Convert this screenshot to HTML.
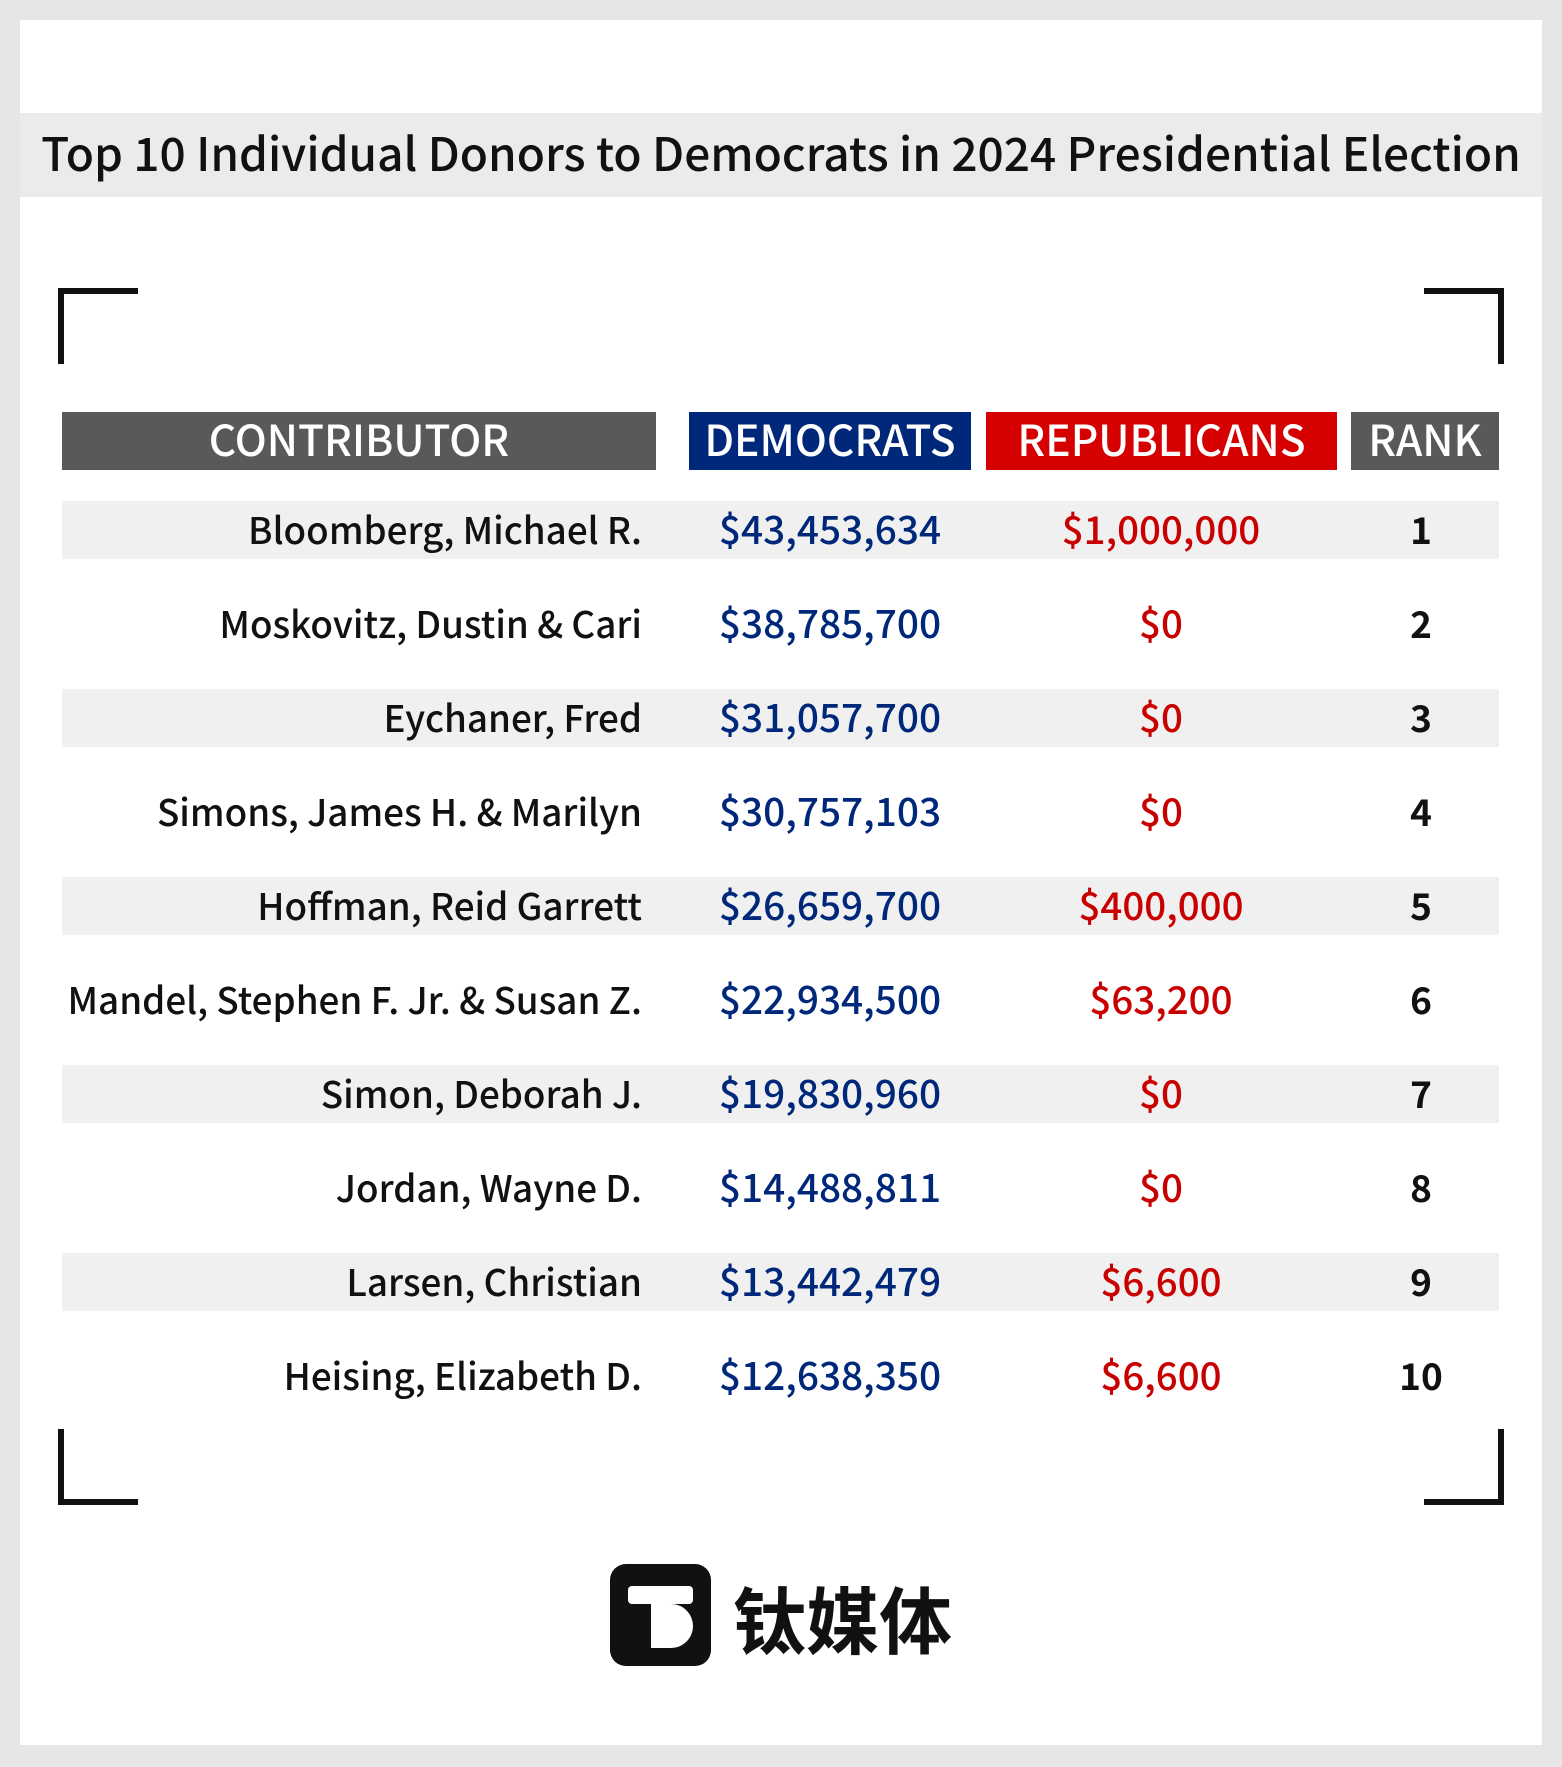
<!DOCTYPE html>
<html><head><meta charset="utf-8">
<style>
html,body{margin:0;padding:0}
body{width:1562px;height:1767px;background:#e6e6e6;position:relative;overflow:hidden;font-family:"Noto Sans CJK SC","Liberation Sans",sans-serif}
.abs{position:absolute}
#panel{left:20px;top:20px;width:1522px;height:1725px;background:#fff}
#title-band{left:20px;top:113px;width:1522px;height:84px;background:#ebebeb;font-size:46px;line-height:78px;text-align:center;color:#111;white-space:nowrap;font-weight:500}
.corner{position:absolute;box-sizing:border-box;width:80px;height:76px;border-color:#111;border-style:solid;border-width:0}
.hdr{position:absolute;top:412px;height:58px;line-height:54px;color:#fff;font-size:42.5px;text-align:center;white-space:nowrap;font-weight:500}
.band{position:absolute;left:62px;width:1437px;height:58px;background:#f0f0f0}
.cell{position:absolute;height:50px;line-height:46px;white-space:nowrap}
</style></head><body>
<div id="panel" class="abs"></div>
<div id="title-band" class="abs">Top 10 Individual Donors to Democrats in 2024 Presidential Election</div>
<div class="corner" style="left:58px;top:288px;border-left-width:6px;border-top-width:6px"></div>
<div class="corner" style="left:1424px;top:288px;border-right-width:6px;border-top-width:6px"></div>
<div class="corner" style="left:58px;top:1429px;border-left-width:6px;border-bottom-width:6px"></div>
<div class="corner" style="left:1424px;top:1429px;border-right-width:6px;border-bottom-width:6px"></div>
<div class="hdr" style="left:62px;width:594px;background:#595959">CONTRIBUTOR</div>
<div class="hdr" style="left:689px;width:282px;background:#00287a">DEMOCRATS</div>
<div class="hdr" style="left:986px;width:351px;background:#d50000">REPUBLICANS</div>
<div class="hdr" style="left:1351px;width:148px;background:#595959">RANK</div>
<div id="rows"></div>
<div class="abs" style="left:610px;top:1564px;width:101px;height:102px;background:#111;border-radius:16px">
<div class="abs" style="left:18px;top:22px;width:65px;height:18px;background:#fff;border-radius:4px"></div>
<div class="abs" style="left:41px;top:36px;width:20px;height:48px;background:#fff"></div>
<div class="abs" style="left:61px;top:40px;width:22px;height:44px;background:#fff;border-radius:0 22px 22px 0"></div>
</div>
<div class="abs" style="left:733px;top:1572px;font-size:73px;font-weight:bold;line-height:90px;color:#111;font-family:'Noto Sans CJK SC',sans-serif">钛媒体</div>
<script>
const names=["Bloomberg, Michael R.","Moskovitz, Dustin & Cari","Eychaner, Fred","Simons, James H. & Marilyn","Hoffman, Reid Garrett","Mandel, Stephen F. Jr. & Susan Z.","Simon, Deborah J.","Jordan, Wayne D.","Larsen, Christian","Heising, Elizabeth D."];
const democrats=["$43,453,634","$38,785,700","$31,057,700","$30,757,103","$26,659,700","$22,934,500","$19,830,960","$14,488,811","$13,442,479","$12,638,350"];
const republicans=["$1,000,000","$0","$0","$0","$400,000","$63,200","$0","$0","$6,600","$6,600"];
const ranks=["1","2","3","4","5","6","7","8","9","10"];
const rows=document.getElementById('rows');
const rowY=i=>530+i*94;
names.forEach((n,i)=>{
  const c=rowY(i);
  if(i%2===0){
    const b=document.createElement('div');b.className='band';b.style.top=(c-29)+'px';
    
    
    rows.appendChild(b);
  }
  const mk=(txt,style,name)=>{const d=document.createElement('div');d.className='cell';d.textContent=txt;d.style.cssText+=style;d.style.top=(c-25)+'px';
    
    
    rows.appendChild(d);};
  mk(n,'right:'+(1562-642)+'px;text-align:right;color:#111;font-size:36.8px;font-weight:500;','contributor-name');
  mk(democrats[i],'left:680px;width:300px;text-align:center;color:#00287a;font-size:38.8px;font-weight:500;','democrats-amount');
  mk(republicans[i],'left:1011px;width:300px;text-align:center;color:#c80000;font-size:38.5px;font-weight:500;','republicans-amount');
  mk(ranks[i],'left:1371px;width:100px;text-align:center;color:#111;font-weight:bold;font-size:37px;','rank-value');
});
</script>
</body></html>
